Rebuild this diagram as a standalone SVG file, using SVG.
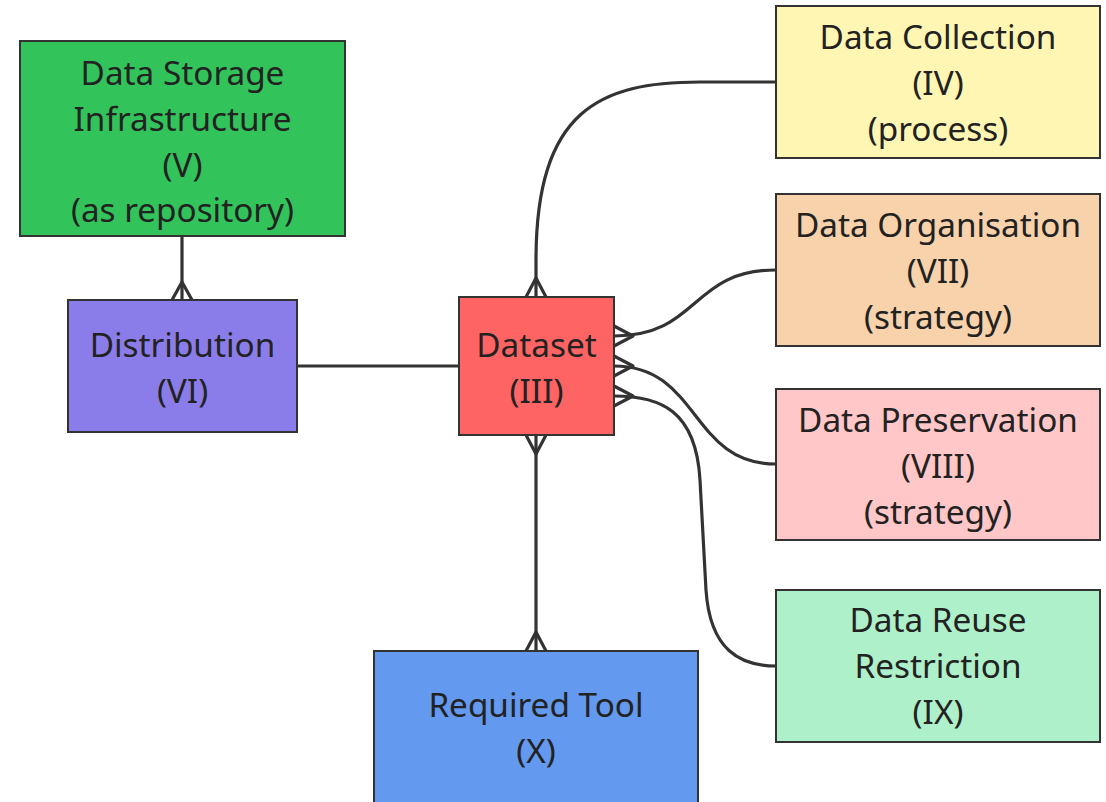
<svg xmlns="http://www.w3.org/2000/svg" width="1106" height="802" viewBox="0 0 1106 802">
<style>
.box{stroke:#333;stroke-width:2}
.lbl{font-family:"Noto Sans","Open Sans",sans-serif;font-size:33.3px;fill:#222;text-anchor:middle}
.edge{fill:none;stroke:#333;stroke-width:3.2}
.crow{fill:none;stroke:#333;stroke-width:3.2;stroke-linejoin:round}
</style>
<rect width="1106" height="802" fill="#fff"/>
<g id="connectors">
  <path class="edge" d="M182,236 L182,300"/>
  <path class="crow" d="M172,300 L182,282 L192,300"/>
  <path class="edge" d="M297,366 L459,366"/>
  <path class="edge" d="M536,297 L536,260 C536,110 600,82 700,82 L776,82"/>
  <path class="crow" d="M526,297 L536,278 L546,297"/>
  <path class="edge" d="M614,336 C700,336 690,270 776,270"/>
  <path class="crow" d="M614,326 L633,336 L614,346"/>
  <path class="edge" d="M614,366 C700,366 690,464 776,464"/>
  <path class="crow" d="M614,356 L633,366 L614,376"/>
  <path class="edge" d="M614,396 C660,396 696,410 700,480 L706,590 C710,650 740,666 776,666"/>
  <path class="crow" d="M614,386 L633,396 L614,406"/>
  <path class="edge" d="M536,435 L536,651"/>
  <path class="crow" d="M526,435 L536,454 L546,435"/>
  <path class="crow" d="M526,651 L536,632 L546,651"/>
</g>
<g id="storage">
  <rect class="box" x="20" y="41" width="325" height="195" fill="#33c35b"/>
  <text class="lbl" x="182.5" y="85">Data Storage</text>
  <text class="lbl" x="182.5" y="131">Infrastructure</text>
  <text class="lbl" x="182.5" y="177">(V)</text>
  <text class="lbl" x="182.5" y="222">(as repository)</text>
</g>
<g id="distribution">
  <rect class="box" x="68" y="300" width="229" height="132" fill="#8b7de9"/>
  <text class="lbl" x="182.5" y="357">Distribution</text>
  <text class="lbl" x="182.5" y="403">(VI)</text>
</g>
<g id="dataset">
  <rect class="box" x="459" y="297" width="155" height="138" fill="#ff6464"/>
  <text class="lbl" x="536.5" y="357">Dataset</text>
  <text class="lbl" x="536.5" y="403">(III)</text>
</g>
<g id="tool">
  <rect class="box" x="374" y="651" width="324" height="160" fill="#6399ee"/>
  <text class="lbl" x="536" y="717">Required Tool</text>
  <text class="lbl" x="536" y="763">(X)</text>
</g>
<g id="collection">
  <rect class="box" x="776" y="6" width="324" height="152" fill="#fff6b3"/>
  <text class="lbl" x="938" y="49">Data Collection</text>
  <text class="lbl" x="938" y="95">(IV)</text>
  <text class="lbl" x="938" y="141">(process)</text>
</g>
<g id="organisation">
  <rect class="box" x="776" y="194" width="324" height="152" fill="#f8d2ab"/>
  <text class="lbl" x="938" y="237">Data Organisation</text>
  <text class="lbl" x="938" y="283">(VII)</text>
  <text class="lbl" x="938" y="329">(strategy)</text>
</g>
<g id="preservation">
  <rect class="box" x="776" y="389" width="324" height="151" fill="#ffc7c7"/>
  <text class="lbl" x="938" y="432">Data Preservation</text>
  <text class="lbl" x="938" y="478">(VIII)</text>
  <text class="lbl" x="938" y="524">(strategy)</text>
</g>
<g id="reuse">
  <rect class="box" x="776" y="590" width="324" height="152" fill="#aef0c9"/>
  <text class="lbl" x="938" y="632">Data Reuse</text>
  <text class="lbl" x="938" y="678">Restriction</text>
  <text class="lbl" x="938" y="724">(IX)</text>
</g>
</svg>
